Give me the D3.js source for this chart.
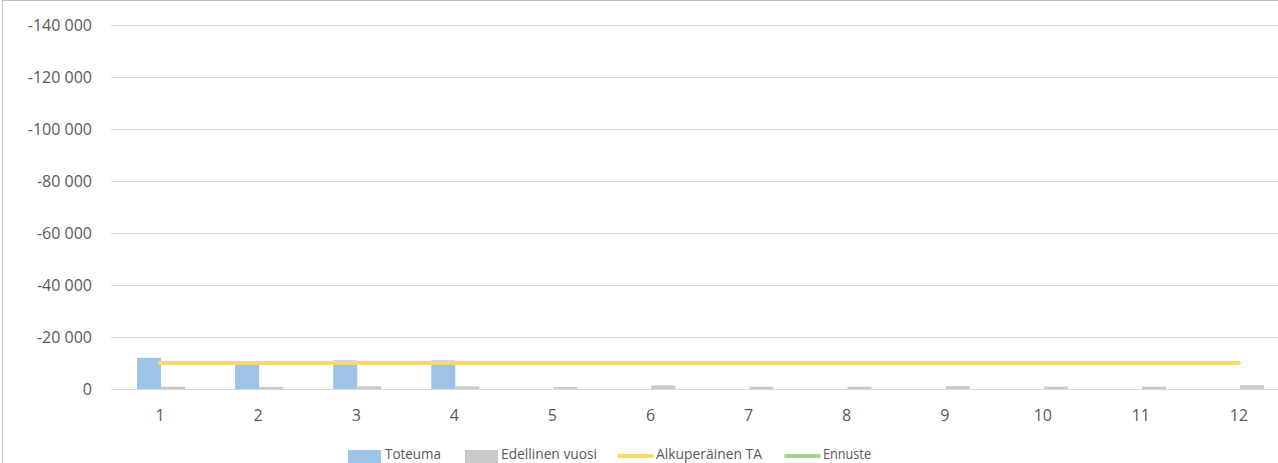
<!DOCTYPE html>
<html><head><meta charset="utf-8">
<script src="https://cdn.jsdelivr.net/npm/d3@7"></script>
<style>body{margin:0;background:#fff;overflow:hidden}svg{display:block}text{font-family:"Open Sans",sans-serif;fill:#595959}</style>
</head><body><svg id="c" width="1278" height="463"></svg>
<script>
const months = ["1","2","3","4","5","6","7","8","9","10","11","12"];
const toteuma = [-12000, -9300, -11000, -11000, null, null, null, null, null, null, null, null];
const edellinenVuosi = [-900, -800, -1000, -1000, -750, -1400, -900, -900, -1100, -900, -900, -1500];
const alkuperainenTA = [-10000, -10000, -10000, -10000, -10000, -10000, -10000, -10000, -10000, -10000, -10000, -10000];
const ennuste = [null, null, null, null, null, null, null, null, null, null, null, null];
const yTicks = [0, -20000, -40000, -60000, -80000, -100000, -120000, -140000];
const legendLabels = ["Toteuma", "Edellinen vuosi", "Alkuperäinen TA", "Ennuste"];

const svg = d3.select("#c");
const locale = d3.formatLocale({decimal: ",", thousands: "\u00a0", grouping: [3], currency: ["", "€"], minus: "-"});
const fmt = locale.format(",d");

const x = d3.scaleBand().domain(months).range([111, 1288]).padding(0);
const xs = d3.scaleBand().domain(["t", "e"]).range([-23, 25]).padding(0);
const y = d3.scaleLinear().domain([0, -140000]).range([389, 25]);

// border
svg.append("rect").attr("x", 2.5).attr("y", 0.5).attr("width", 1400).attr("height", 500)
  .attr("fill", "none").attr("stroke", "#bfbfbf");

// gridlines
svg.append("g").selectAll("line").data(yTicks).join("line")
  .attr("x1", 111).attr("x2", 1288)
  .attr("y1", d => Math.round(y(d)) + 0.5).attr("y2", d => Math.round(y(d)) + 0.5)
  .attr("stroke", "#d9d9d9").attr("stroke-width", 1);

// y labels
svg.append("g").selectAll("text").data(yTicks).join("text")
  .attr("x", 92).attr("y", d => y(d)).attr("dy", "0.35em")
  .attr("text-anchor", "end").style("font-size", "16px").text(d => fmt(d));

// x labels
svg.append("g").selectAll("text").data(months).join("text")
  .attr("x", d => x(d) + x.bandwidth() / 2).attr("y", 421)
  .attr("text-anchor", "middle").style("font-size", "16px").text(d => d);

// bars
const cx = d => x(d) + x.bandwidth() / 2;
svg.append("g").selectAll("rect").data(months.map((m, i) => ({m, v: toteuma[i]})).filter(d => d.v != null)).join("rect")
  .attr("x", d => cx(d.m) + xs("t")).attr("width", xs.bandwidth())
  .attr("y", d => y(d.v)).attr("height", d => y(0) - y(d.v)).attr("fill", "#9dc3e6");
svg.append("g").selectAll("rect").data(months.map((m, i) => ({m, v: edellinenVuosi[i]})).filter(d => d.v != null)).join("rect")
  .attr("x", d => cx(d.m) + xs("e")).attr("width", xs.bandwidth())
  .attr("y", d => y(d.v)).attr("height", d => y(0) - y(d.v)).attr("fill", "#c9c9c9");

// lines
const line = d3.line().defined(d => d.v != null).x(d => cx(d.m)).y(d => y(d.v));
svg.append("path").datum(months.map((m, i) => ({m, v: alkuperainenTA[i]})))
  .attr("d", line).attr("fill", "none").attr("stroke", "#ffd966").attr("stroke-width", 4).attr("stroke-linecap", "round");
svg.append("path").datum(months.map((m, i) => ({m, v: ennuste[i]})))
  .attr("d", line).attr("fill", "none").attr("stroke", "#a9d18e").attr("stroke-width", 4).attr("stroke-linecap", "round");

// legend
const lg = svg.append("g");
const items = [
  {label: legendLabels[0], type: "rect", color: "#9dc3e6", sx: 348, tx: 385, tw: 56},
  {label: legendLabels[1], type: "rect", color: "#c9c9c9", sx: 465, tx: 501, tw: 96},
  {label: legendLabels[2], type: "line", color: "#ffd966", sx: 618, tx: 656, tw: 106},
  {label: legendLabels[3], type: "line", color: "#a9d18e", sx: 785, tx: 823, tw: 48}
];
items.forEach(it => {
  if (it.type === "rect") lg.append("rect").attr("x", it.sx).attr("y", 450).attr("width", 33).attr("height", 13).attr("fill", it.color);
  else lg.append("line").attr("x1", it.sx + 1).attr("x2", it.sx + 34).attr("y1", 456).attr("y2", 456)
    .attr("stroke", it.color).attr("stroke-width", 4).attr("stroke-linecap", "round");
  lg.append("text").attr("x", it.tx).attr("y", 459).style("font-size", "15px")
    .attr("textLength", it.tw).attr("lengthAdjust", "spacingAndGlyphs").text(it.label);
});
</script></body></html>
